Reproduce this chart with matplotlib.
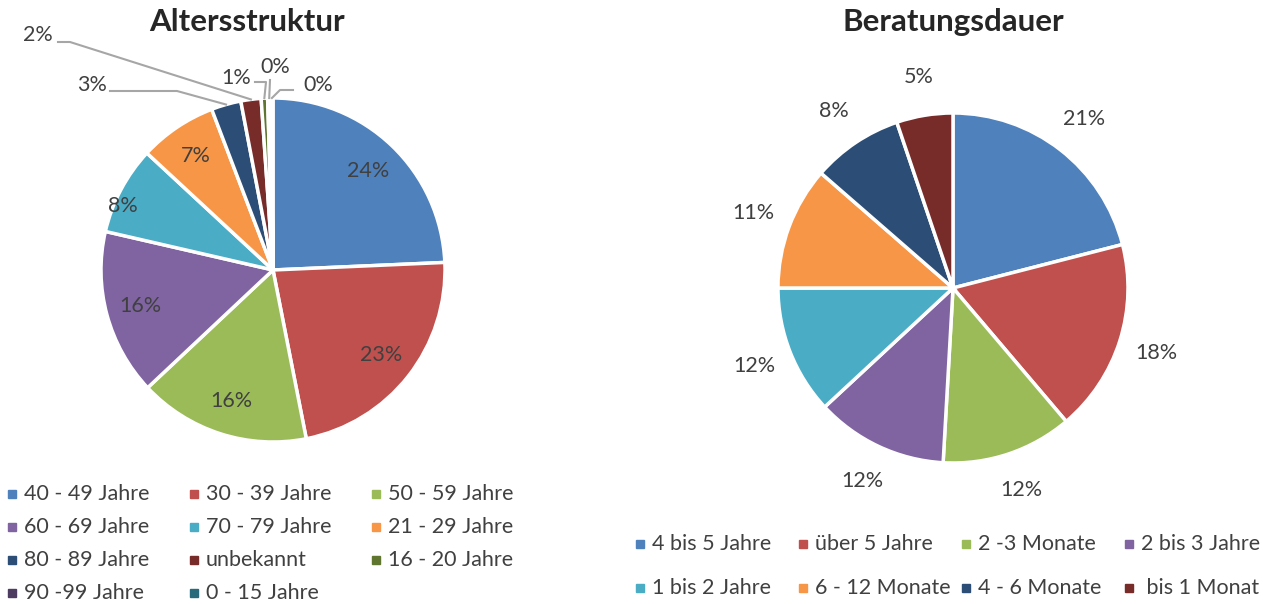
import numpy as np
import matplotlib.pyplot as plt
from matplotlib.patches import Rectangle

plt.rcParams['font.family'] = ['Lato', 'DejaVu Sans']

# data
alter_labels = ['40 - 49 Jahre', '30 - 39 Jahre', '50 - 59 Jahre', '60 - 69 Jahre',
                '70 - 79 Jahre', '21 - 29 Jahre', '80 - 89 Jahre', 'unbekannt',
                '16 - 20 Jahre', '90 -99 Jahre', '0 - 15 Jahre']
alter_pct = [24.3, 22.6, 16.1, 15.6, 8.3, 7.3, 2.8, 1.9, 0.6, 0.3, 0.2]

dauer_labels = ['4 bis 5 Jahre', 'über 5 Jahre', '2 -3 Monate', '2 bis 3 Jahre',
                '1 bis 2 Jahre', '6 - 12 Monate', '4 - 6 Monate', ' bis 1 Monat']
dauer_pct = [21.0, 17.8, 12.1, 12.2, 11.9, 11.4, 8.4, 5.2]

colors = ['#4F81BD', '#C0504D', '#9BBB59', '#8064A2', '#4BACC6', '#F79646',
          '#2C4D75', '#772C2A', '#5F7530', '#4D3B62', '#276A7C']

txt = '#404040'
fs = 15.5
W, H = 1274, 604
fig = plt.figure(figsize=(W / 100, H / 100), dpi=100)
ax = fig.add_axes([0, 0, 1, 1])

def P(x, y):
    # pixel position (y from top) -> axes data coords
    return x, H - y

# left pie
c1, r1 = P(273, 270), 172
wedges1, _ = ax.pie(alter_pct, colors=colors, startangle=90, counterclock=False,
                    center=c1, radius=r1,
                    wedgeprops=dict(edgecolor='white', linewidth=2.5))
for i, w in enumerate(wedges1[:6]):
    a = np.deg2rad((w.theta1 + w.theta2) / 2)
    rr = 0.95 if i == 4 else 0.8
    if i == 4:
        a += np.deg2rad(5)
    ax.text(c1[0] + rr * r1 * np.cos(a), c1[1] + rr * r1 * np.sin(a),
            '%.0f%%' % alter_pct[i], ha='center', va='center', fontsize=fs, color=txt)

# small slices: text position and leader elbow (pixels)
small_txt = [(92, 85), (38, 35), (236, 78), (275, 67), (318, 85)]
small_elb = [[(110, 91), (177, 91)], [(58, 42), (70, 42)], [(255, 82), (266, 82)],
             [(270, 80)], [(293, 90), (280, 90)]]
for k, w in enumerate(wedges1[6:]):
    i = k + 6
    a = np.deg2rad((w.theta1 + w.theta2) / 2)
    edge = (c1[0] + r1 * np.cos(a), c1[1] + r1 * np.sin(a))
    pts = [P(*p) for p in small_elb[k]] + [edge]
    ax.plot([p[0] for p in pts], [p[1] for p in pts], color='#a6a6a6', lw=1.5)
    ax.text(*P(*small_txt[k]), '%.0f%%' % alter_pct[i], ha='center', va='center',
            fontsize=fs, color=txt)

# right pie
c2, r2 = P(953, 288), 175
wedges2, _ = ax.pie(dauer_pct, colors=colors[:8], startangle=90, counterclock=False,
                    center=c2, radius=r2,
                    wedgeprops=dict(edgecolor='white', linewidth=2.5))
for i, w in enumerate(wedges2):
    a = np.deg2rad((w.theta1 + w.theta2) / 2)
    ax.text(c2[0] + 1.22 * r2 * np.cos(a), c2[1] + 1.22 * r2 * np.sin(a),
            '%.0f%%' % dauer_pct[i], ha='center', va='center', fontsize=fs, color=txt)

# titles
ax.text(*P(247, 22), 'Altersstruktur', ha='center', va='center', fontsize=22.5,
        fontweight='bold', color='#262626')
ax.text(*P(953, 22), 'Beratungsdauer', ha='center', va='center', fontsize=22.5,
        fontweight='bold', color='#262626')

# legends (row-major like Excel)
def legend(labels, cols, x0, dx, y0, dy, ncol):
    for i, lab in enumerate(labels):
        r, c = divmod(i, ncol)
        x, y = P(x0 + c * dx, y0 + r * dy)
        ax.add_patch(Rectangle((x - 4, y - 4), 8, 8, color=cols[i], clip_on=False))
        ax.text(x + 12, y, lab, ha='left', va='center', fontsize=fs, color=txt)

legend(alter_labels, colors, 12, 182, 494, 33, 3)
legend(dauer_labels, colors[:8], 640, 163, 544, 44, 4)

ax.set_xlim(0, W)
ax.set_ylim(0, H)
ax.axis('off')
fig.savefig('out.png', dpi=100, facecolor='white')
